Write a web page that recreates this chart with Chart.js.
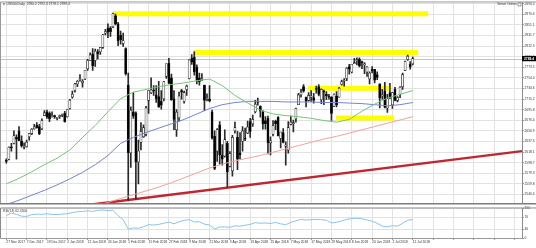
<!DOCTYPE html>
<html><head><meta charset="utf-8">
<script src="https://cdn.jsdelivr.net/npm/chart.js@4.4.1/dist/chart.umd.min.js"></script>
<style>
html,body{margin:0;padding:0;background:#fff;}
#wrap{position:relative;width:536px;height:248px;overflow:hidden;background:#fff;}
#main{position:absolute;left:0;top:0;}
#rsi{position:absolute;left:0;top:206px;}
</style></head><body>
<div id="wrap"><canvas id="main" width="536" height="206"></canvas><canvas id="rsi" width="536" height="42"></canvas></div>
<script>
// ---------- data ----------
const symbol = 'US500,Daily';
const xTickLabels = ['27 Nov 2017','7 Dec 2017','19 Dec 2017','2 Jan 2018','12 Jan 2018','24 Jan 2018','5 Feb 2018','15 Feb 2018','27 Feb 2018','9 Mar 2018','21 Mar 2018','3 Apr 2018','13 Apr 2018','25 Apr 2018','7 May 2018','17 May 2018','29 May 2018','8 Jun 2018','20 Jun 2018','2 Jul 2018','12 Jul 2018'];
const xTickStep = 8;
const yTicks = [2890.0,2870.6,2851.1,2831.7,2812.3,2792.9,2773.5,2754.0,2734.6,2715.2,2695.8,2676.4,2656.9,2637.5,2618.1,2598.7,2579.3,2559.8,2540.4];
const rsiTicks = [100,70,30,0];

const opens = [2602,2605,2627,2634,2645,2657,2639,2627,2628,2646,2652,2661,2667,2665,2661,2685,2692,2689,2683,2684,2680,2683,2686,2689,2683,2698,2719,2731,2743,2751,2745,2752,2771,2786,2798,2786,2802,2802,2810,2836,2845,2846,2848,2868,2853,2832,2817,2808,2741,2617,2692,2690,2600,2636,2646,2651,2713,2727,2732,2723,2720,2711,2716,2757,2781,2754,2716,2659,2681,2731,2711,2733,2753,2790,2792,2774,2754,2751,2741,2716,2715,2692,2647,2620,2668,2612,2611,2634,2592,2584,2657,2645,2617,2638,2643,2653,2674,2670,2692,2710,2702,2692,2676,2680,2635,2651,2675,2682,2643,2654,2629,2622,2669,2670,2679,2705,2723,2738,2719,2713,2719,2718,2735,2738,2714,2730,2724,2721,2719,2702,2721,2719,2742,2748,2753,2775,2765,2780,2785,2788,2784,2778,2765,2752,2770,2770,2760,2743,2721,2730,2699,2727,2705,2733,2713,2724,2738,2768,2788,2779,2780.2];
const highs = [2606,2628,2634,2657,2650,2665,2648,2635,2640,2652,2661,2669,2672,2669,2679,2694,2695,2692,2692,2686,2682,2686,2688,2693,2696,2715,2730,2744,2749,2760,2751,2768,2788,2800,2808,2807,2806,2810,2834,2843,2853,2848,2873,2871,2856,2840,2836,2809,2763,2701,2727,2692,2640,2672,2668,2702,2731,2754,2740,2740,2748,2731,2748,2780,2790,2761,2731,2696,2728,2733,2730,2741,2787,2797,2802,2778,2763,2762,2741,2725,2740,2695,2657,2661,2674,2632,2659,2638,2619,2649,2673,2656,2654,2665,2662,2675,2680,2686,2713,2717,2703,2694,2683,2684,2646,2676,2677,2683,2655,2661,2637,2674,2684,2677,2699,2726,2733,2742,2719,2727,2731,2726,2739,2742,2734,2732,2729,2724,2720,2725,2729,2737,2750,2753,2773,2779,2779,2790,2791,2791,2785,2782,2775,2765,2775,2770,2765,2743,2733,2746,2724,2744,2727,2737,2720,2738,2763,2785,2796,2784,2792.3];
const lows = [2598,2604,2620,2633,2605,2639,2627,2624,2627,2640,2650,2660,2662,2650,2659,2685,2680,2674,2682,2680,2677,2680,2683,2673,2682,2697,2717,2728,2738,2748,2737,2751,2768,2786,2768,2775,2789,2797,2808,2833,2828,2830,2846,2851,2813,2816,2812,2759,2530,2590,2680,2532,2560,2622,2645,2648,2689,2725,2722,2709,2700,2697,2712,2753,2744,2713,2659,2647,2675,2715,2708,2722,2752,2779,2759,2743,2741,2749,2694,2712,2710,2642,2586,2601,2596,2594,2609,2554,2591,2574,2653,2586,2605,2620,2639,2652,2645,2665,2690,2704,2682,2660,2660,2615,2613,2648,2659,2648,2626,2635,2594,2616,2668,2655,2673,2705,2719,2728,2701,2712,2711,2708,2726,2721,2707,2705,2714,2715,2676,2702,2701,2719,2741,2739,2749,2761,2763,2780,2778,2774,2771,2762,2757,2743,2763,2745,2751,2699,2715,2699,2691,2716,2698,2712,2710,2718,2733,2768,2786,2770,2778.1];
const closes = [2601,2627,2626,2648,2642,2639,2630,2629,2636,2652,2660,2664,2663,2652,2676,2690,2682,2679,2685,2683,2681,2684,2688,2674,2696,2713,2724,2743,2748,2751,2748,2768,2786,2796,2776,2803,2798,2810,2833,2839,2838,2839,2872,2853,2822,2824,2822,2762,2617,2695,2684,2600,2620,2656,2663,2699,2731,2732,2730,2716,2701,2704,2747,2780,2744,2714,2678,2691,2721,2728,2727,2739,2787,2783,2765,2750,2747,2752,2713,2717,2712,2644,2588,2659,2613,2605,2641,2582,2615,2645,2663,2605,2613,2657,2642,2664,2656,2678,2706,2709,2693,2670,2670,2635,2639,2667,2670,2648,2655,2636,2630,2663,2673,2672,2698,2723,2728,2730,2711,2722,2720,2713,2733,2724,2733,2728,2721,2719,2689,2724,2705,2735,2747,2749,2772,2770,2779,2782,2787,2776,2782,2779,2774,2763,2767,2750,2755,2717,2723,2700,2716,2718,2727,2713,2718,2737,2760,2784,2794,2774,2789.4];

// moving averages read every 5 bars
const maStep = 5;
const ma50 = [2560,2570,2582,2595,2607,2622,2645,2667,2692,2716,2728,2733,2738,2742,2745,2749,2752,2740,2722,2708,2695,2688,2685,2683,2680,2676,2673,2678,2693,2706,2717,2724,2731];
const ma100 = [2522,2530,2539,2548,2558,2569,2581,2595,2612,2634,2645,2654,2662,2670,2678,2688,2698,2705,2709,2711,2711,2711,2710,2710,2710,2709,2709,2708,2707,2705,2703,2705,2709];
const ma200 = [2470,2477,2484,2491,2498,2505,2512,2519,2526,2533,2540,2547,2554,2562,2571,2580,2589,2596,2602,2607,2612,2618,2624,2630,2636,2642,2647,2653,2659,2665,2671,2677,2683];

// RSI(14) read every 2 bars
const rsiStep = 2;
const rsi = [76,84,80,74,73,79,81,80,82,80,79,81,82,86,89,90,92,90,94,95,93,94,76,62,30,34,33,38,45,44,46,50,54,48,55,60,62,54,55,47,44,31,37,38,36,41,40,43,46,52,50,51,49,53,48,45,53,58,63,61,62,63,62,60,51,53,58,63,66,67,65,61,57,50,40,38,42,40,50,60,62.35];

// drawn objects (bar index / price)
const yellowLevels = [2871.5, 2800.7, 2735.3, 2680.5];
const yellowFrom   = [42, 73.5, 118.8, 129.8];
const yellowTo     = [166, 162, 151.1, 152.6];
const trendStart = {x: 33.6, y: 2522};
const trendEnd   = {x: 203,  y: 2620};

// ---------- chart ----------
const X_MIN = -2.09, X_MAX = 203.0;
const Y_MIN = 2523.9, Y_MAX = 2892.3;
const FONT = "Arial, 'Liberation Sans', sans-serif";
const GRID = '#e2e2e2';
const last = closes.length - 1;
const gridIdx = [];
for (let v = 0; v <= X_MAX; v += xTickStep) gridIdx.push(v);

const wickData = closes.map((c, i) => ({x: i, y: [lows[i], highs[i]]}));
const bodyData = closes.map((c, i) => ({x: i, y: [opens[i], c]}));
const isUp = i => closes[i] >= opens[i];
const maPts = arr => arr.map((v, k) => ({x: k * maStep, y: v}));

const datasets = [];
yellowLevels.forEach((lv, k) => datasets.push({
  type: 'line', data: [{x: yellowFrom[k], y: lv}, {x: yellowTo[k], y: lv}],
  borderColor: '#ffff00', borderWidth: 5, borderCapStyle: 'butt', pointRadius: 0, order: 20, clip: 0
}));
datasets.push({type: 'line', data: [trendStart, trendEnd], borderColor: '#bf2630', borderWidth: 2.4,
  pointRadius: 0, order: 15, clip: 0});
datasets.push({type: 'bar', data: wickData, backgroundColor: '#2a2a2a', barThickness: 1, grouped: false,
  order: 10, borderWidth: 0});
datasets.push({type: 'bar', data: bodyData, grouped: false, barThickness: 2.2, minBarLength: 1, order: 9,
  backgroundColor: c => isUp(c.dataIndex) ? '#f4f4f4' : '#000000',
  borderColor: '#1a1a1a', borderWidth: 0.6, borderSkipped: false});
datasets.push({type: 'line', data: maPts(ma200), borderColor: '#f0a29c', borderWidth: 1, pointRadius: 0, order: 3, clip: 0});
datasets.push({type: 'line', data: maPts(ma100), borderColor: '#7484cf', borderWidth: 1, pointRadius: 0, order: 2, clip: 0});
datasets.push({type: 'line', data: maPts(ma50), borderColor: '#78c27a', borderWidth: 1, pointRadius: 0, order: 1, clip: 0});

const mainDecor = {
  id: 'mainDecor',
  beforeDatasetsDraw(chart) {
    const {ctx, chartArea: a, scales} = chart;
    const y = Math.round(scales.y.getPixelForValue(closes[last])) + 0.5;
    ctx.save();
    ctx.strokeStyle = '#c4c4c4'; ctx.lineWidth = 1;
    ctx.beginPath(); ctx.moveTo(a.left, y); ctx.lineTo(a.right, y); ctx.stroke();
    ctx.restore();
  },
  afterDraw(chart) {
    const {ctx, chartArea: a, scales} = chart;
    ctx.save();
    ctx.strokeStyle = '#9a9a9a'; ctx.lineWidth = 1;
    ctx.beginPath(); ctx.moveTo(a.left - 0.5, a.bottom); ctx.lineTo(a.left - 0.5, a.top - 0.5);
    ctx.lineTo(chart.width, a.top - 0.5); ctx.stroke();
    ctx.strokeStyle = '#7c7c7c'; ctx.lineWidth = 1.5;
    ctx.beginPath(); ctx.moveTo(0, a.bottom + 0.3); ctx.lineTo(chart.width, a.bottom + 0.3); ctx.stroke();
    // header
    ctx.fillStyle = '#333'; ctx.font = '3.3px ' + FONT; ctx.textBaseline = 'middle';
    ctx.beginPath(); ctx.moveTo(3, 3.5); ctx.lineTo(5, 3.5); ctx.lineTo(4, 5.3); ctx.closePath(); ctx.fill();
    ctx.textAlign = 'left';
    ctx.fillText(symbol + '  ' + [opens[last], highs[last], lows[last], closes[last]].map(v => v.toFixed(1)).join(' '), 6.5, 4.5);
    ctx.textAlign = 'right';
    ctx.fillText('Smart Orders', 517, 4.5);
    ctx.strokeStyle = '#666'; ctx.lineWidth = 0.6; ctx.strokeRect(518, 2.8, 3, 3.2);
    // price box
    const y = scales.y.getPixelForValue(closes[last]);
    ctx.fillStyle = '#000'; ctx.fillRect(a.right, y - 2.6, chart.width - a.right, 5.2);
    ctx.fillStyle = '#fff'; ctx.textAlign = 'left'; ctx.font = 'bold 3.3px ' + FONT;
    ctx.fillText(closes[last].toFixed(1), a.right + 2, y + 0.2);
    ctx.restore();
  }
};

new Chart(document.getElementById('main'), {
  type: 'bar',
  data: {datasets},
  options: {
    responsive: false, animation: false, devicePixelRatio: 1, events: [],
    layout: {padding: {left: 1, top: 2, right: 0, bottom: 1}},
    plugins: {legend: {display: false}, tooltip: {enabled: false}},
    scales: {
      x: {type: 'linear', min: X_MIN, max: X_MAX, offset: false,
        afterBuildTicks: s => { s.ticks = gridIdx.map(v => ({value: v})); },
        ticks: {display: false}, grid: {color: GRID, drawTicks: false, offset: false}, border: {display: false},
        afterFit: s => { s.height = 0; }},
      y: {type: 'linear', position: 'right', min: Y_MIN, max: Y_MAX,
        afterBuildTicks: s => { s.ticks = yTicks.map(v => ({value: v})); },
        ticks: {font: {size: 3.3, family: FONT}, color: '#333', padding: 0.5, callback: v => Number(v).toFixed(1)},
        grid: {color: GRID, tickLength: 2, tickColor: '#999'}, border: {color: '#8c8c8c'},
        afterFit: s => { s.width = 14; }}
    }
  },
  plugins: [mainDecor]
});

const rsiDecor = {
  id: 'rsiDecor',
  afterDraw(chart) {
    const {ctx, chartArea: a} = chart;
    ctx.save();
    ctx.strokeStyle = '#8a8a8a'; ctx.lineWidth = 1;
    ctx.beginPath(); ctx.moveTo(a.left - 0.5, a.bottom + 0.5); ctx.lineTo(a.left - 0.5, a.top - 0.5);
    ctx.lineTo(chart.width, a.top - 0.5); ctx.stroke();
    ctx.strokeStyle = '#9a9a9a';
    ctx.beginPath(); ctx.moveTo(a.left - 0.5, a.bottom + 0.5); ctx.lineTo(a.right, a.bottom + 0.5); ctx.stroke();
    ctx.fillStyle = '#333'; ctx.font = '3.3px ' + FONT; ctx.textBaseline = 'middle'; ctx.textAlign = 'left';
    ctx.fillText('RSI(14) ' + rsi[rsi.length - 1].toFixed(4), 3, a.top + 3);
    ctx.restore();
  }
};

new Chart(document.getElementById('rsi'), {
  type: 'line',
  data: {datasets: [{data: rsi.map((v, k) => ({x: k * rsiStep, y: v})), borderColor: '#8cc2ea', borderWidth: 1,
    pointRadius: 0, clip: 0}]},
  options: {
    responsive: false, animation: false, devicePixelRatio: 1, events: [],
    layout: {padding: {left: 1, top: 1, right: 0, bottom: 0}},
    plugins: {legend: {display: false}, tooltip: {enabled: false}},
    scales: {
      x: {type: 'linear', min: X_MIN, max: X_MAX, offset: false,
        afterBuildTicks: s => { s.ticks = gridIdx.map(v => ({value: v})); },
        ticks: {font: {size: 3.3, family: FONT}, color: '#333', align: 'start', maxRotation: 0, minRotation: 0,
          autoSkip: false, padding: 0.5,
          callback: v => { const k = Math.round(v / xTickStep); return (k < xTickLabels.length) ? xTickLabels[k] : ''; }},
        grid: {color: GRID, tickLength: 2, tickColor: '#999', offset: false}, border: {display: false},
        afterFit: s => { s.height = 10; }},
      y: {type: 'linear', position: 'right', min: 0, max: 100,
        afterBuildTicks: s => { s.ticks = rsiTicks.map(v => ({value: v})); },
        ticks: {font: {size: 3.3, family: FONT}, color: '#333', padding: 0.5, callback: v => String(v)},
        grid: {color: GRID, tickLength: 2, tickColor: '#999'}, border: {color: '#8c8c8c'},
        afterFit: s => { s.width = 14; }}
    }
  },
  plugins: [rsiDecor]
});
</script>
</body></html>
